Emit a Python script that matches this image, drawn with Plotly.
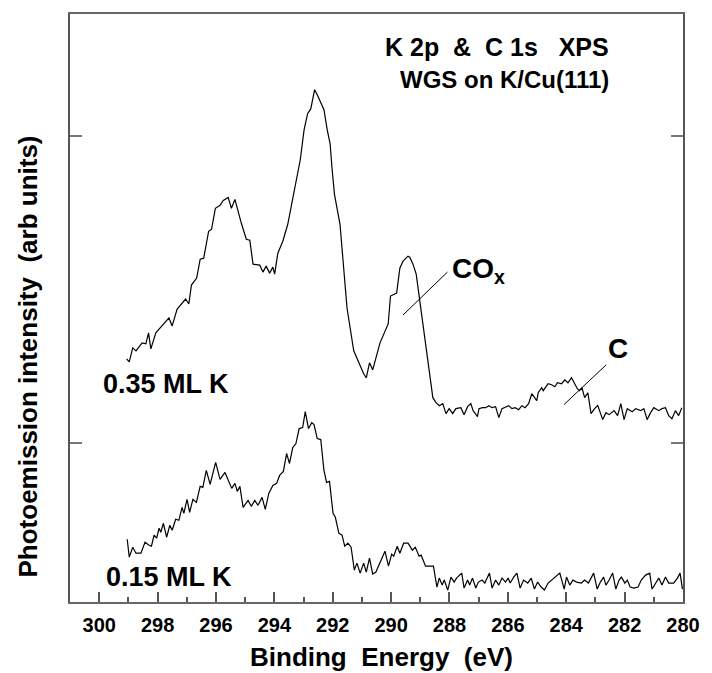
import plotly.graph_objects as go

# ---------------- data (binding energy in eV, intensity in arb. units) ----------------
E_035 = [299.06, 298.97, 298.85, 298.74, 298.53, 298.40, 298.31, 298.23, 298.06, 297.84,
         297.61, 297.50, 297.33, 297.04, 296.93, 296.84, 296.66, 296.54, 296.42, 296.25,
         296.15, 296.02, 295.86, 295.75, 295.58, 295.47, 295.35, 295.13, 294.96, 294.84,
         294.73, 294.50, 294.39, 294.28, 294.16, 294.05, 293.99, 293.88, 293.71, 293.54,
         293.34, 293.23, 293.11, 292.98, 292.86, 292.75, 292.62, 292.53, 292.30, 292.19,
         292.09, 292.02, 291.94, 291.75, 291.51, 291.28, 290.94, 290.85, 290.74, 290.63,
         290.38, 290.10, 290.02, 289.81, 289.70, 289.59, 289.42, 289.36, 289.25, 289.14,
         289.02, 288.91, 288.74, 288.57, 288.46, 288.35, 288.23, 288.12, 288.01, 287.89,
         287.78, 287.61, 287.50, 287.38, 287.27, 287.19, 287.04, 286.99, 286.87, 286.76,
         286.65, 286.54, 286.42, 286.31, 286.20, 286.08, 285.97, 285.86, 285.75, 285.63,
         285.52, 285.41, 285.29, 285.18, 285.09, 285.01, 284.96, 284.84, 284.79, 284.67,
         284.62, 284.50, 284.39, 284.30, 284.16, 284.05, 283.94, 283.82, 283.71, 283.62,
         283.54, 283.46, 283.37, 283.26, 283.15, 283.03, 282.92, 282.81, 282.75, 282.64,
         282.53, 282.36, 282.24, 282.13, 282.02, 281.91, 281.74, 281.62, 281.45, 281.34,
         281.23, 281.11, 281.00, 280.83, 280.72, 280.60, 280.49, 280.38, 280.26, 280.15,
         280.04]
I_035 = [244, 241, 255, 252, 260, 259, 270, 254, 270, 277,
         285, 277, 294, 304, 299, 318, 325, 344, 345, 372,
         374, 395, 398, 403, 406, 395, 404, 380, 364, 363,
         339, 338, 331, 337, 330, 336, 329, 350, 362, 379,
         409, 427, 444, 474, 490, 495, 514, 509, 494, 474,
         460, 434, 409, 379, 295, 252, 229, 225, 240, 233,
         260, 279, 307, 310, 335, 342, 347, 346, 339, 329,
         302, 279, 242, 205, 200, 197, 199, 189, 194, 189,
         194, 195, 188, 196, 199, 192, 186, 194, 195, 195,
         197, 195, 196, 185, 194, 196, 197, 194, 195, 193,
         197, 195, 199, 209, 205, 202, 210, 215, 212, 217,
         219, 218, 216, 220, 219, 223, 220, 225, 219, 214,
         212, 215, 205, 210, 189, 194, 197, 189, 183, 190,
         188, 192, 187, 199, 183, 194, 191, 194, 192, 194,
         183, 190, 195, 192, 194, 195, 187, 184, 192, 187,
         195]

E_015 = [299.04, 298.97, 298.85, 298.74, 298.57, 298.43, 298.29, 298.21, 298.12, 298.03,
         297.95, 297.89, 297.80, 297.69, 297.58, 297.50, 297.38, 297.27, 297.16, 297.10,
         296.99, 296.90, 296.79, 296.67, 296.54, 296.45, 296.33, 296.20, 296.01, 295.86,
         295.69, 295.58, 295.46, 295.35, 295.27, 295.18, 295.07, 294.90, 294.79, 294.67,
         294.56, 294.42, 294.31, 294.19, 294.05, 293.92, 293.82, 293.69, 293.58, 293.48,
         293.37, 293.26, 293.15, 293.03, 292.94, 292.83, 292.72, 292.64, 292.53, 292.41,
         292.30, 292.21, 292.11, 291.99, 291.91, 291.79, 291.68, 291.59, 291.48, 291.37,
         291.26, 291.17, 291.06, 290.94, 290.85, 290.74, 290.63, 290.52, 290.38, 290.21,
         290.09, 289.98, 289.91, 289.79, 289.70, 289.57, 289.42, 289.27, 289.17, 289.04,
         288.97, 288.82, 288.55, 288.43, 288.35, 288.25, 288.18, 288.06, 287.95, 287.84,
         287.76, 287.58, 287.50, 287.38, 287.31, 287.21, 287.10, 287.01, 286.88, 286.79,
         286.63, 286.54, 286.42, 286.31, 286.20, 286.08, 285.99, 285.92, 285.80, 285.69,
         285.58, 285.46, 285.32, 285.20, 285.09, 284.98, 284.86, 284.75, 284.62, 284.50,
         284.37, 284.22, 284.07, 283.99, 283.88, 283.77, 283.65, 283.48, 283.37, 283.24,
         283.06, 282.94, 282.83, 282.72, 282.64, 282.53, 282.41, 282.30, 282.19, 282.11,
         281.99, 281.91, 281.81, 281.68, 281.54, 281.43, 281.28, 281.14, 281.06, 280.94,
         280.83, 280.72, 280.60, 280.49, 280.32, 280.19, 280.10, 280.02]
I_015 = [63, 45, 55, 49, 49, 60, 57, 56, 67, 64,
         74, 70, 79, 65, 77, 72, 83, 82, 95, 89,
         103, 90, 103, 100, 116, 115, 132, 118, 140, 123,
         130, 122, 114, 119, 111, 116, 95, 102, 96, 102,
         97, 105, 93, 109, 117, 119, 127, 131, 149, 139,
         155, 159, 174, 175, 191, 174, 180, 178, 164, 163,
         132, 120, 121, 89, 85, 69, 67, 56, 59, 55,
         32, 39, 29, 39, 30, 44, 28, 30, 39, 51,
         36, 48, 46, 56, 49, 59, 59, 52, 55, 46,
         47, 36, 36, 15, 24, 17, 22, 12, 25, 20,
         24, 29, 14, 22, 17, 24, 14, 20, 22, 19,
         29, 14, 22, 17, 24, 20, 24, 19, 25, 29,
         14, 22, 19, 24, 13, 20, 15, 12, 19, 22,
         26, 29, 13, 25, 17, 22, 20, 19, 22, 19,
         29, 13, 20, 25, 17, 22, 29, 13, 22, 25,
         19, 22, 15, 14, 15, 22, 27, 29, 13, 19,
         24, 17, 25, 19, 19, 24, 29, 13]

x_ticks = [300, 298, 296, 294, 292, 290, 288, 286, 284, 282, 280]
x_minor = [299, 297, 295, 293, 291, 289, 287, 285, 283, 281]
y_ticks = [160, 468]
x_range = [301, 280]
y_range = [0, 590]

series_labels = ["0.35 ML K", "0.15 ML K"]
series_label_pos = [(299.95, 219), (299.85, 25)]
title_main = "K 2p  &  C 1s   XPS"
title_sub = "WGS on K/Cu(111)"
title_pos = [(282.45, 557), (282.45, 524)]
peak_labels = ["CO<sub>x</sub>", "C"]
peak_label_pos = [(287.98, 333), (282.65, 254)]
leader_lines = [((288.07, 331), (289.59, 288)), ((282.63, 238), (284.08, 198))]

FONT = "Liberation Sans, Arial, Helvetica, sans-serif"
NARROW = "Liberation Sans Narrow, Arial Narrow, " + FONT

fig = go.Figure()
for E, I in ((E_035, I_035), (E_015, I_015)):
    fig.add_trace(go.Scatter(x=E, y=I, mode="lines",
                             line=dict(color="black", width=1.2),
                             showlegend=False, hoverinfo="skip"))

for (p0, p1) in leader_lines:
    fig.add_shape(type="line", xref="x", yref="y",
                  x0=p0[0], y0=p0[1], x1=p1[0], y1=p1[1],
                  line=dict(color="black", width=1))


def bold(size):
    return dict(family=FONT, size=size, color="black", weight="bold")


ann = []
for txt, (ex, iy) in zip(series_labels, series_label_pos):
    ann.append(dict(x=ex, y=iy, xref="x", yref="y", text=txt, showarrow=False,
                    xanchor="left", yanchor="middle", font=bold(27)))
for txt, (ex, iy) in zip(peak_labels, peak_label_pos):
    ann.append(dict(x=ex, y=iy, xref="x", yref="y", text=txt, showarrow=False,
                    xanchor="left", yanchor="middle", font=bold(28)))
for txt, (ex, iy), sz in zip([title_main, title_sub], title_pos, [25, 24]):
    ann.append(dict(x=ex, y=iy, xref="x", yref="y", text=txt, showarrow=False,
                    xanchor="right", yanchor="middle", font=bold(sz)))
ann.append(dict(x=0.508, y=-0.093, xref="paper", yref="paper", text="Binding  Energy  (eV)",
                showarrow=False, xanchor="center", yanchor="middle", font=bold(26)))
ann.append(dict(x=-0.069, y=0.417, xref="paper", yref="paper",
                text="Photoemission intensity  (arb units)", textangle=-90,
                showarrow=False, xanchor="center", yanchor="middle",
                font=dict(family=NARROW, size=26, color="black", weight="bold")))

fig.update_layout(
    width=712, height=673,
    margin=dict(l=70, r=22, t=12, b=71),
    paper_bgcolor="white", plot_bgcolor="white",
    annotations=ann,
    xaxis=dict(range=x_range, tickvals=x_ticks, ticktext=[str(v) for v in x_ticks],
               ticks="inside", ticklen=10, tickcolor="#555", tickwidth=1.5,
               minor=dict(tickvals=x_minor, ticks="inside", ticklen=5,
                          tickcolor="#555", tickwidth=1.5),
               showline=True, linecolor="#666", linewidth=1.5, mirror=True,
               showgrid=False, zeroline=False, ticklabelstandoff=4,
               tickfont=bold(20)),
    yaxis=dict(range=y_range, tickvals=y_ticks, showticklabels=False,
               ticks="inside", ticklen=12, tickcolor="#777", tickwidth=1.5,
               showline=True, linecolor="#555", linewidth=1.5, mirror="ticks",
               showgrid=False, zeroline=False),
)

fig.write_html("out.html")
